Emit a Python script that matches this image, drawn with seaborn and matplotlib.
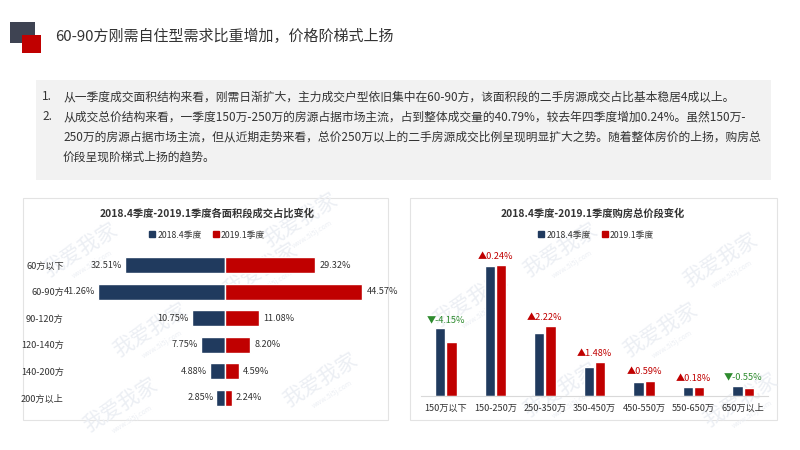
import matplotlib
matplotlib.use("Agg")
import matplotlib.pyplot as plt
import seaborn as sns
import pandas as pd
import numpy as np
from matplotlib.patches import Rectangle
from matplotlib.lines import Line2D

# ---------------- data ----------------
area_cats = ["60方以下", "60-90方", "90-120方", "120-140方", "140-200方", "200方以上"]
area_2018q4 = [32.51, 41.26, 10.75, 7.75, 4.88, 2.85]
area_2019q1 = [29.32, 44.57, 11.08, 8.20, 4.59, 2.24]

price_cats = ["150万以下", "150-250万", "250-350万", "350-450万", "450-550万", "550-650万", "650万以上"]
price_2018q4 = [21.10, 40.55, 19.60, 8.95, 4.15, 2.60, 3.10]
price_2019q1 = [16.95, 40.79, 21.82, 10.43, 4.74, 2.78, 2.55]
price_change = [-4.15, 0.24, 2.22, 1.48, 0.59, 0.18, -0.55]

series_names = ["2018.4季度", "2019.1季度"]
page_title = "60-90方刚需自住型需求比重增加，价格阶梯式上扬"
bullets = [
    ("1.", "从一季度成交面积结构来看，刚需日渐扩大，主力成交户型依旧集中在60-90方，该面积段的二手房源成交占比基本稳居4成以上。"),
    ("2.", "从成交总价结构来看，一季度150万-250万的房源占据市场主流，占到整体成交量的40.79%，较去年四季度增加0.24%。虽然150万-"),
    ("", "250万的房源占据市场主流，但从近期走势来看，总价250万以上的二手房源成交比例呈现明显扩大之势。随着整体房价的上扬，购房总"),
    ("", "价段呈现阶梯式上扬的趋势。"),
]
left_title = "2018.4季度-2019.1季度各面积段成交占比变化"
right_title = "2018.4季度-2019.1季度购房总价段变化"

# ---------------- style ----------------
sns.set_theme(style="white")
plt.rcParams['font.family'] = ['Noto Sans CJK SC', 'DejaVu Sans']
plt.rcParams['axes.unicode_minus'] = False

NAVY = "#203A5E"
RED = "#C00000"
GREEN = "#2E8B2E"
TXT = "#333333"
SMALL = 6.6

W, H = 800, 450
fig = plt.figure(figsize=(8, 4.5), dpi=100)
fig.patch.set_facecolor("white")

def fx(x):
    return x / W

def fy(y):
    return 1 - y / H

def prect(x0, y0, x1, y1, zorder=-1, **kw):
    fig.patches.append(Rectangle((fx(x0), fy(y1)), fx(x1) - fx(x0), fy(y0) - fy(y1),
                                 transform=fig.transFigure, figure=fig, zorder=zorder, **kw))

# header icon + title
prect(10, 22, 35, 43, zorder=1, facecolor="#3E4352", edgecolor="none")
prect(22, 35, 41, 53, zorder=2, facecolor="#C00000", edgecolor="none")
fig.text(fx(55), fy(36), page_title, fontsize=10.8, color=TXT, va="center", ha="left")

# text box
prect(36, 80, 771, 180, facecolor="#F2F2F2", edgecolor="none")
line_y = [97, 117, 137, 157]
for (num, txt), yy in zip(bullets, line_y):
    if num:
        fig.text(fx(42), fy(yy), num, fontsize=8.5, color=TXT, va="center", ha="left")
    fig.text(fx(63), fy(yy), txt, fontsize=8.5, color=TXT, va="center", ha="left")

# panels
prect(23, 198, 388, 420, facecolor="white", edgecolor="#E3E3E3", linewidth=0.8)
prect(410, 198, 777, 420, facecolor="white", edgecolor="#E3E3E3", linewidth=0.8)

# watermark layer
wm = fig.add_axes([0, 0, 1, 1], zorder=0.5)
wm.set_axis_off()
wm.patch.set_alpha(0)
wm.set_xlim(0, W)
wm.set_ylim(H, 0)
wm_pos = [(80, 250), (150, 330), (260, 270), (320, 380), (120, 405), (470, 300),
          (560, 250), (660, 330), (720, 260), (740, 400), (560, 390), (300, 220)]
for (px, py) in wm_pos:
    wm.text(px, py, "我爱我家", fontsize=15, color="#ECEFF4", rotation=32,
            ha="center", va="center")
    wm.text(px + 12, py + 14, "www.5i5j.com", fontsize=5, color="#ECEFF4", rotation=32,
            ha="center", va="center")

# ---------------- left chart: butterfly ----------------
lx0, lx1 = 68, 385
ly0, ly1 = 251.7, 411.3
axL = fig.add_axes([fx(lx0), fy(ly1), fx(lx1) - fx(lx0), fy(ly0) - fy(ly1)], zorder=2)
axL.set_facecolor("none")
dfL = pd.DataFrame({"cat": area_cats, "q4": area_2018q4, "q1": area_2019q1})
dfL["neg_q4"] = -dfL["q4"]
sns.barplot(data=dfL, x="neg_q4", y="cat", color=NAVY, orient="h", width=0.6,
            saturation=1, ax=axL)
sns.barplot(data=dfL, x="q1", y="cat", color=RED, orient="h", width=0.6,
            saturation=1, ax=axL)
center_px = 225
ppu = 3.08
axL.set_xlim(-(center_px - lx0) / ppu, (lx1 - center_px) / ppu)
axL.set_ylim(len(area_cats) - 0.5, -0.5)
for i, (a, b) in enumerate(zip(area_2018q4, area_2019q1)):
    axL.annotate(f"{a:.2f}%", (-a, i), xytext=(-2, 0), textcoords="offset points",
                 ha="right", va="center", fontsize=SMALL, color=TXT)
    axL.annotate(f"{b:.2f}%", (b, i), xytext=(3, 0), textcoords="offset points",
                 ha="left", va="center", fontsize=SMALL, color=TXT)
axL.set_xlabel("")
axL.set_ylabel("")
axL.set_xticks([])
axL.tick_params(axis="y", length=0, pad=3, labelsize=SMALL, labelcolor=TXT)
for s in axL.spines.values():
    s.set_visible(False)

fig.text(fx(207), fy(214), left_title, fontsize=7.4, fontweight="bold", color=TXT,
         ha="center", va="center")

def make_legend(cx, cy):
    handles = [Line2D([], [], marker="s", linestyle="none", markersize=4,
                      markerfacecolor=c, markeredgecolor=c) for c in (NAVY, RED)]
    fig.legend(handles, series_names, loc="center", bbox_to_anchor=(fx(cx), fy(cy)),
               ncol=2, frameon=False, fontsize=6.3, handlelength=0.7, handletextpad=0.2,
               columnspacing=1.3, labelcolor=TXT)

make_legend(207, 235)

# ---------------- right chart: grouped bars ----------------
rx0, rx1 = 421, 768
ry_base, ry_top = 395.7, 250
axR = fig.add_axes([fx(rx0), fy(ry_base), fx(rx1) - fx(rx0), fy(ry_top) - fy(ry_base)], zorder=2)
axR.set_facecolor("none")
dfR = pd.DataFrame({
    "cat": price_cats * 2,
    "share": price_2018q4 + price_2019q1,
    "series": [series_names[0]] * len(price_cats) + [series_names[1]] * len(price_cats),
})
sns.barplot(data=dfR, x="cat", y="share", hue="series", palette=[NAVY, RED],
            width=0.46, gap=0.1, saturation=1, legend=False, ax=axR)
ppy = 3.197
axR.set_ylim(0, (ry_base - ry_top) / ppy)
axR.set_xlim(-0.5, len(price_cats) - 0.5)
for i, (a, b, d) in enumerate(zip(price_2018q4, price_2019q1, price_change)):
    top = max(a, b)
    if d >= 0:
        lab, col = f"▲{d:.2f}%", RED
    else:
        lab, col = f"▼{d:.2f}%", GREEN
    axR.annotate(lab, (i, top), xytext=(0, 3), textcoords="offset points",
                 ha="center", va="bottom", fontsize=SMALL, color=col)
axR.set_xlabel("")
axR.set_ylabel("")
axR.set_yticks([])
axR.tick_params(axis="x", length=0, pad=6, labelsize=SMALL, labelcolor=TXT)
for k in ("top", "right", "left"):
    axR.spines[k].set_visible(False)
axR.spines["bottom"].set_color("#D9D9D9")
axR.spines["bottom"].set_linewidth(0.8)

fig.text(fx(593), fy(214), right_title, fontsize=7.4, fontweight="bold", color=TXT,
         ha="center", va="center")
make_legend(596, 235)

fig.savefig("out.png", dpi=100, facecolor="white")
